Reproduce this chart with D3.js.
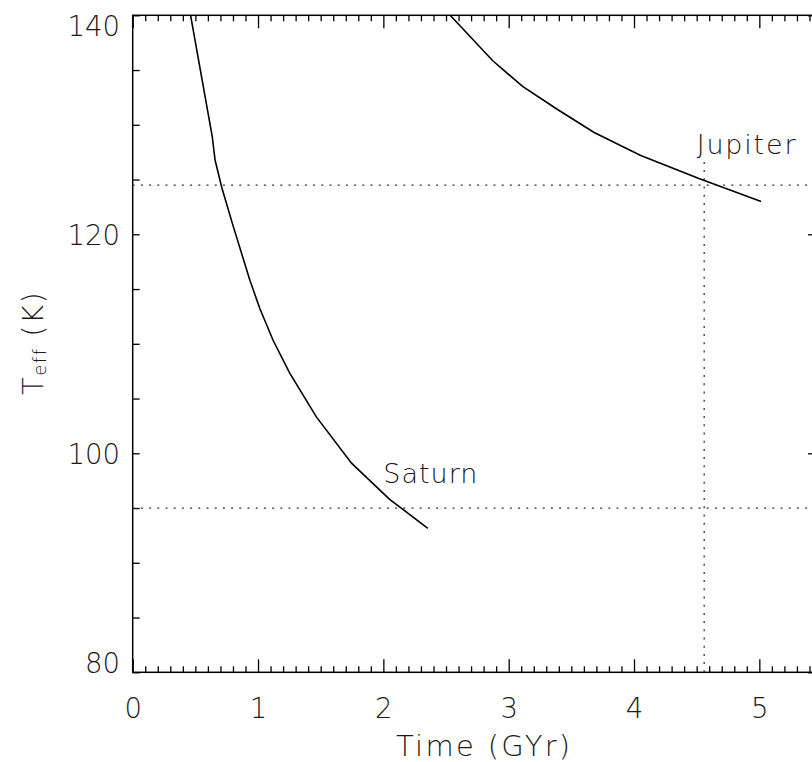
<!DOCTYPE html>
<html>
<head>
<meta charset="utf-8">
<script src="https://cdn.jsdelivr.net/npm/d3@7/dist/d3.min.js"></script>
<style>
  html, body { margin: 0; padding: 0; background: #fff; }
  svg { display: block; }
  text { font-family: "DejaVu Sans ExtraLight", "DejaVu Sans", sans-serif; font-weight: 200; fill: #1a1a1a; }
</style>
</head>
<body>
<svg id="chart" width="812" height="762"></svg>
<script>
// ---- data ----
const saturnTime = [0.462, 0.635, 0.657, 0.710, 0.803, 0.935, 1.015, 1.121, 1.254, 1.467, 1.746, 2.050, 2.355];
const saturnTeff = [140.0, 128.9, 126.8, 124.3, 120.7, 115.8, 113.2, 110.3, 107.3, 103.3, 99.1, 95.8, 93.15];
const jupiterTime = [2.533, 2.873, 3.111, 3.390, 3.682, 4.054, 4.518, 5.014];
const jupiterTeff = [140.0, 135.85, 133.5, 131.4, 129.3, 127.2, 125.1, 123.0];
const refTeff = [124.5, 95.0];          // observed Teff (Jupiter, Saturn)
const solarAge = 4.56;                  // GYr
const solarAgeTop = 127.0;              // top of the vertical marker
const xMajorTicks = [0, 1, 2, 3, 4, 5];
const yMajorTicks = [80, 100, 120, 140];
const labels = [
  { name: "Saturn", t: 2.0, T: 97.3 },
  { name: "Jupiter", t: 4.5, T: 127.3 }
];
const xDomain = [0, 5.5];
const yDomain = [80, 140];

// ---- layout ----
const FONT = '"DejaVu Sans ExtraLight", "DejaVu Sans", sans-serif';
const svg = d3.select("#chart");
const L = 132.7, R = 822, T = 15.3, B = 672.3;
const x = d3.scaleLinear().domain(xDomain).range([L, R]);
const y = d3.scaleLinear().domain(yDomain).range([B, T]);

const xMinor = d3.range(0, 55 + 1).map(i => i / 10).filter(v => !xMajorTicks.includes(v));
const yMinor = d3.range(80, 141, 5).filter(v => !yMajorTicks.includes(v));
const yAll = d3.range(80, 141, 5);

function styleAxis(g) {
  g.select(".domain").remove();
  g.selectAll(".tick line").attr("stroke", "#000").attr("stroke-width", 1.3);
}

// bottom axis
svg.append("g").attr("transform", `translate(0,${B})`)
  .call(d3.axisBottom(x).tickValues(xMinor).tickSize(-6).tickFormat(""))
  .call(styleAxis);
const bottomMajor = svg.append("g").attr("transform", `translate(0,${B})`)
  .call(d3.axisBottom(x).tickValues(xMajorTicks).tickSize(-13).tickPadding(0).tickFormat(d3.format("d")))
  .call(styleAxis);
bottomMajor.selectAll(".tick text")
  .attr("y", 46).attr("dy", null)
  .attr("font-size", 27.5).attr("font-family", FONT).attr("font-weight", 200).attr("fill", "#1a1a1a");

// top axis
svg.append("g").attr("transform", `translate(0,${T})`)
  .call(d3.axisTop(x).tickValues(xMinor).tickSize(-6).tickFormat(""))
  .call(styleAxis);
svg.append("g").attr("transform", `translate(0,${T})`)
  .call(d3.axisTop(x).tickValues(xMajorTicks).tickSize(-13).tickFormat(""))
  .call(styleAxis);

// left axis
const leftAx = svg.append("g").attr("transform", `translate(${L},0)`)
  .call(d3.axisLeft(y).tickValues(yAll).tickSize(-7).tickPadding(0)
    .tickFormat(d => yMajorTicks.includes(d) ? d3.format("d")(d) : ""))
  .call(styleAxis);
leftAx.selectAll(".tick text")
  .attr("x", -12.7).attr("dy", null)
  .attr("y", d => d === 80 ? 0 : (d === 140 ? 20 : 10.5))
  .attr("font-size", 27.5).attr("font-family", FONT).attr("font-weight", 200).attr("fill", "#1a1a1a");

// right axis
svg.append("g").attr("transform", `translate(${R},0)`)
  .call(d3.axisRight(y).tickValues(yMinor).tickSize(-7).tickFormat(""))
  .call(styleAxis);
svg.append("g").attr("transform", `translate(${R},0)`)
  .call(d3.axisRight(y).tickValues(yMajorTicks).tickSize(-14).tickFormat(""))
  .call(styleAxis);

// frame
svg.append("rect").attr("x", L).attr("y", T).attr("width", R - L).attr("height", B - T)
  .attr("fill", "none").attr("stroke", "#000").attr("stroke-width", 1.5);

// reference dotted lines
svg.selectAll(".href").data(refTeff).enter().append("line")
  .attr("x1", x(xDomain[0])).attr("x2", x(xDomain[1]))
  .attr("y1", d => y(d)).attr("y2", d => y(d))
  .attr("stroke", "#333").attr("stroke-width", 1.3).attr("stroke-dasharray", "2,6.2");
svg.append("line")
  .attr("x1", x(solarAge)).attr("x2", x(solarAge))
  .attr("y1", y(yDomain[0])).attr("y2", y(solarAgeTop))
  .attr("stroke", "#333").attr("stroke-width", 1.3).attr("stroke-dasharray", "2,6.2");

// curves
const line = d3.line().x(d => x(d[0])).y(d => y(d[1]));
svg.append("clipPath").attr("id", "plotclip").append("rect")
  .attr("x", L).attr("y", T).attr("width", R - L).attr("height", B - T);
const curves = [
  d3.zip(saturnTime, saturnTeff),
  d3.zip(jupiterTime, jupiterTeff)
];
svg.append("g").attr("clip-path", "url(#plotclip)")
  .selectAll("path").data(curves).enter().append("path")
  .attr("d", line).attr("fill", "none").attr("stroke", "#000").attr("stroke-width", 1.6);

// curve labels
svg.selectAll(".lab").data(labels).enter().append("text")
  .attr("x", d => x(d.t)).attr("y", d => y(d.T))
  .attr("font-size", 27).attr("letter-spacing", d => d.name === "Jupiter" ? 1.8 : 1)
  .text(d => d.name);

// axis titles
svg.append("text")
  .attr("x", 396).attr("y", 755.5)
  .attr("font-size", 29).attr("letter-spacing", 2.3)
  .text("Time (GYr)");

const yt = svg.append("text")
  .attr("transform", `translate(43,395) rotate(-90)`)
  .attr("font-size", 29).attr("letter-spacing", 1.5);
yt.append("tspan").text("T");
yt.append("tspan").attr("font-size", 18).attr("dy", 3).text("eff");
yt.append("tspan").attr("dy", -3).text(" (K)");
</script>
</body>
</html>
